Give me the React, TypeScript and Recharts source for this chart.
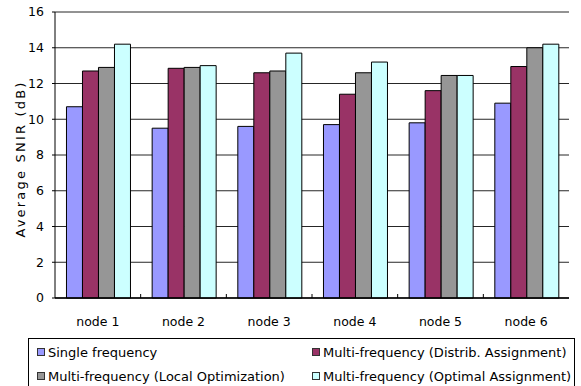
import { Bar, BarChart, CartesianGrid, Label, Legend, XAxis, YAxis } from "recharts";

// average SNIR (dB) per node, one array per frequency scheme
const nodes = ["node 1", "node 2", "node 3", "node 4", "node 5", "node 6"];
const singleFreq = [10.7, 9.5, 9.6, 9.7, 9.8, 10.9];
const distribAssign = [12.7, 12.85, 12.6, 11.4, 11.6, 12.95];
const localOpt = [12.9, 12.9, 12.7, 12.6, 12.45, 14.0];
const optimalAssign = [14.2, 13.0, 13.7, 13.2, 12.45, 14.2];
const yTicks = [0, 2, 4, 6, 8, 10, 12, 14, 16];

const series = [
  { key: "single", name: "Single frequency", color: "#9999FF" },
  { key: "distrib", name: "Multi-frequency (Distrib. Assignment)", color: "#993366" },
  { key: "local", name: "Multi-frequency (Local Optimization)", color: "#969696" },
  { key: "optimal", name: "Multi-frequency (Optimal Assignment)", color: "#CCFFFF" },
];

const data = nodes.map((node, i) => ({
  node,
  single: singleFreq[i],
  distrib: distribAssign[i],
  local: localOpt[i],
  optimal: optimalAssign[i],
}));

const W = 581;
const H = 386;
const FONT = "'DejaVu Sans', sans-serif";
const Y_AXIS_W = 55;
const M_RIGHT = 12;
const BAND = (W - Y_AXIS_W - M_RIGHT) / nodes.length;

// category label plus a short inward tick on the left boundary of each group
function NodeTick(props: any) {
  const { x, y, payload, index } = props;
  const bx = x - BAND / 2;
  return (
    <g>
      {index > 0 && <line x1={bx} x2={bx} y1={y - 4} y2={y} stroke="#000" />}
      <text x={x} y={y + 28} textAnchor="middle" fontFamily={FONT} fontSize={12.5} fill="#000">
        {payload.value}
      </text>
    </g>
  );
}

function LegendBox() {
  return (
    <div
      style={{
        boxSizing: "border-box",
        width: 547,
        height: 48,
        border: "1px solid #000",
        borderBottom: "none",
        padding: "1px 0 0 8px",
        display: "grid",
        gridTemplateColumns: "275px 1fr",
        gridAutoRows: "24px",
        fontFamily: FONT,
        fontSize: 13,
        color: "#000",
        background: "#fff",
      }}
    >
      {series.map((s) => (
        <div key={s.key} style={{ display: "flex", alignItems: "center", whiteSpace: "nowrap" }}>
          <span
            style={{
              display: "inline-block",
              boxSizing: "border-box",
              width: 8,
              height: 8,
              border: "1px solid #333",
              background: s.color,
              marginRight: 3,
            }}
          />
          <span>{s.name}</span>
        </div>
      ))}
    </div>
  );
}

export default function App() {
  return (
    <div style={{ width: W, height: H, background: "#fff" }}>
      <style>{"body{margin:0}"}</style>
      <BarChart
        width={W}
        height={H}
        data={data}
        margin={{ top: 12, right: M_RIGHT, bottom: 0, left: 0 }}
        barCategoryGap="13.4%"
        barGap={0}
      >
        <CartesianGrid horizontal vertical={false} stroke="#000" strokeOpacity={0.85} />
        <XAxis
          dataKey="node"
          height={40}
          tickLine={false}
          tickSize={0}
          tickMargin={0}
          axisLine={{ stroke: "#000", strokeWidth: 1.5 }}
          tick={<NodeTick />}
          interval={0}
        />
        <YAxis
          width={Y_AXIS_W}
          domain={[0, 16]}
          ticks={yTicks}
          interval={0}
          tickSize={3}
          tickMargin={8}
          tickLine={{ stroke: "#000" }}
          axisLine={{ stroke: "#000" }}
          tick={{ fontFamily: FONT, fontSize: 12.5, fill: "#000" }}
        >
          <Label
            content={({ viewBox }: any) => {
              const cx = viewBox.x + 20;
              const cy = viewBox.y + viewBox.height / 2 + 4;
              return (
                <text
                  x={cx}
                  y={cy}
                  transform={`rotate(-90, ${cx}, ${cy})`}
                  textAnchor="middle"
                  dominantBaseline="central"
                  fontFamily={FONT}
                  fontSize={13}
                  letterSpacing={2.2}
                  fill="#000"
                >
                  Average SNIR (dB)
                </text>
              );
            }}
          />
        </YAxis>
        <YAxis
          yAxisId="frame"
          orientation="right"
          width={0}
          domain={[0, 16]}
          ticks={yTicks}
          tick={false}
          tickLine={false}
          axisLine={{ stroke: "#000" }}
        />
        <Legend
          verticalAlign="bottom"
          content={<LegendBox />}
          wrapperStyle={{ left: 28, width: 547, height: 48 }}
        />
        {series.map((s) => (
          <Bar
            key={s.key}
            dataKey={s.key}
            name={s.name}
            fill={s.color}
            stroke="#000"
            strokeWidth={1}
            isAnimationActive={false}
          />
        ))}
      </BarChart>
    </div>
  );
}
